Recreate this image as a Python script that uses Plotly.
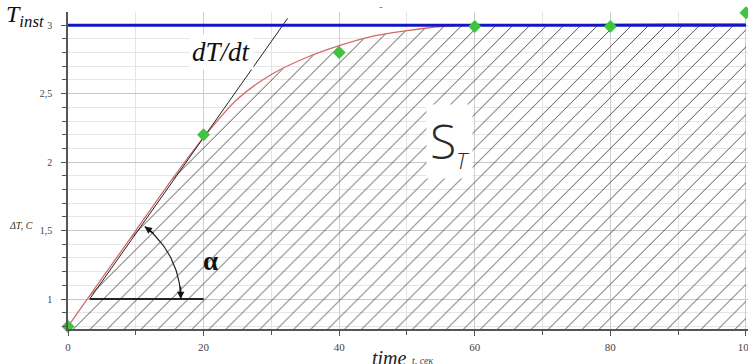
import numpy as np
import plotly.graph_objects as go

# ---- data ----
t_meas = [0, 20, 40, 60, 80, 100]
T_meas = [0.8, 2.2, 2.8, 2.99, 2.99, 3.09]

t_fit = [0, 5, 10, 15, 20, 25, 30, 35, 40, 45, 50, 55, 60, 70, 80, 90, 100]
T_fit = [0.8, 1.15, 1.5, 1.85, 2.18, 2.46, 2.64, 2.76, 2.85, 2.92, 2.96, 2.99, 3.0, 3.0, 3.005, 3.01, 3.01]

T_inst = 3.0
t_inst = [0, 100]

tangent_t = [3.2, 32.4]
tangent_T = [1.0, 3.05]
base_t = [3.2, 20]
base_T = [1.0, 1.0]

x_ticks = [0, 20, 40, 60, 80, 100]
x_ticktext = ["0", "20", "40", "60", "80", "100"]
y_ticks = [1, 1.5, 2, 2.5, 3]
y_ticktext = ["1", "1,5", "2", "2,5", "3"]

# ---- layout geometry ----
W, H = 748, 364
ML, MR, MT, MB = 68, 0, 12, 35
XR = [0, 100.3]
YR = [0.781, 3.096]
pw, ph = W - ML - MR, H - MT - MB
sx = pw / (XR[1] - XR[0])
sy = ph / (YR[1] - YR[0])

serif = "Liberation Serif"

fig = go.Figure()

# hatched area under the curve
fig.add_trace(go.Scatter(
    x=t_fit, y=T_fit, mode="lines", line=dict(width=0),
    fill="tozeroy", fillcolor="rgba(255,255,255,0)",
    fillpattern=dict(shape="/", size=12, solidity=0.08, fgcolor="#383838",
                     bgcolor="rgba(255,255,255,0)", fgopacity=0.9),
    hoverinfo="skip", showlegend=False))

# red fitted curve
fig.add_trace(go.Scatter(x=t_fit, y=T_fit, mode="lines",
                         line=dict(color="#d26a6a", width=1.3, shape="spline", smoothing=0.8),
                         showlegend=False))

# tangent and base line
fig.add_trace(go.Scatter(x=tangent_t, y=tangent_T, mode="lines",
                         line=dict(color="#222", width=1), showlegend=False))
fig.add_trace(go.Scatter(x=base_t, y=base_T, mode="lines",
                         line=dict(color="#222", width=2), showlegend=False))

# angle arc (pixel circle around the tangent/base vertex)
ang = np.degrees(np.arctan2((tangent_T[1] - tangent_T[0]) * sy,
                            (tangent_t[1] - tangent_t[0]) * sx))
r_px = 91
th = np.radians(np.linspace(ang - 2, 0, 40))
arc_t = tangent_t[0] + r_px * np.cos(th) / sx
arc_T = tangent_T[0] + r_px * np.sin(th) / sy
fig.add_trace(go.Scatter(x=arc_t, y=arc_T, mode="lines",
                         line=dict(color="#222", width=1.2), showlegend=False))

# instantaneous level
fig.add_trace(go.Scatter(x=t_inst, y=[T_inst, T_inst], mode="lines",
                         line=dict(color="#1515c8", width=3), showlegend=False))

# measured points
fig.add_trace(go.Scatter(x=t_meas, y=T_meas, mode="markers",
                         marker=dict(symbol="diamond", size=10, color="#3fc43f"),
                         cliponaxis=False, showlegend=False))

# arrow heads of the angle arc
th0 = th[0]
fig.add_annotation(x=arc_t[0], y=arc_T[0], ax=13 * np.sin(th0), ay=13 * np.cos(th0),
                   showarrow=True, arrowhead=2, arrowsize=1.2, arrowwidth=1.2,
                   arrowcolor="#111", standoff=0, text="")
fig.add_annotation(x=arc_t[-1], y=arc_T[-1], ax=0, ay=-14,
                   showarrow=True, arrowhead=2, arrowsize=1.2, arrowwidth=1.2,
                   arrowcolor="#111", standoff=0, text="")

# in-plot labels
fig.add_annotation(x=(221 - ML) / sx, y=YR[1] - (52 - MT) / sy, text="<i>dT/dt</i>",
                   showarrow=False, font=dict(family=serif, size=27, color="#111"),
                   bgcolor="white", borderpad=2)
fig.add_annotation(x=(210 - ML) / sx, y=YR[1] - (261 - MT) / sy, text="<b>α</b>",
                   showarrow=False, font=dict(family=serif, size=27, color="#111"))
fig.add_annotation(x=(449 - ML) / sx, y=YR[1] - (141 - MT) / sy,
                   text="S<sub><i><span style='font-size:22px'>T</span></i></sub>",
                   showarrow=False,
                   font=dict(family="Open Sans", size=48, color="#2a2a2a", weight=300),
                   bgcolor="white", borderpad=3)

def px2paper(px, py):
    return (px - ML) / pw, (H - MB - py) / ph

def margin_text(px, py, text, size, color):
    x0, y0 = px2paper(px, py)
    fig.add_annotation(x=x0, y=y0, xref="paper", yref="paper", text=text,
                       xanchor="center", yanchor="middle", showarrow=False,
                       font=dict(family=serif, size=size, color=color))

margin_text(25, 16, "<i>T<sub>inst</sub></i>", 24, "#111")
margin_text(21, 225, "<i>ΔT, C</i>", 10, "#333")
margin_text(389, 358, "<i>time</i>", 20, "#222")
margin_text(423, 360, "<i>t, сек</i>", 10, "#444")
margin_text(381, 6, "-", 11, "#5870b0")

fig.update_layout(
    template="none", width=W, height=H,
    margin=dict(l=ML, r=MR, t=MT, b=MB, autoexpand=False),
    paper_bgcolor="white", plot_bgcolor="white", showlegend=False,
    xaxis=dict(range=XR, tickvals=x_ticks, ticktext=x_ticktext, automargin=False,
               showline=True, linecolor="#555", linewidth=1.5, zeroline=False,
               ticks="outside", ticklen=5, tickcolor="#555", ticklabelstandoff=2,
               ticklabeloverflow="allow",
               tickfont=dict(family=serif, size=11, color="#444"),
               showgrid=True, gridcolor="#cfcfcf", gridwidth=1,
               minor=dict(dtick=10, tick0=0, ticks="outside", ticklen=4, tickcolor="#555",
                          showgrid=True, gridcolor="#e4e4e4", gridwidth=1)),
    yaxis=dict(range=YR, tickvals=y_ticks, ticktext=y_ticktext, automargin=False,
               showline=True, linecolor="#555", linewidth=1.5, zeroline=False,
               ticks="outside", ticklen=5, tickcolor="#555", ticklabelstandoff=7,
               tickfont=dict(family=serif, size=10, color="#444"),
               showgrid=True, gridcolor="#c8c8c8", gridwidth=1.3,
               minor=dict(dtick=0.1, tick0=0, ticks="outside", ticklen=4, tickcolor="#555",
                          showgrid=True, gridcolor="#e6e6e6", gridwidth=1)),
)

fig.write_html("out.html")
